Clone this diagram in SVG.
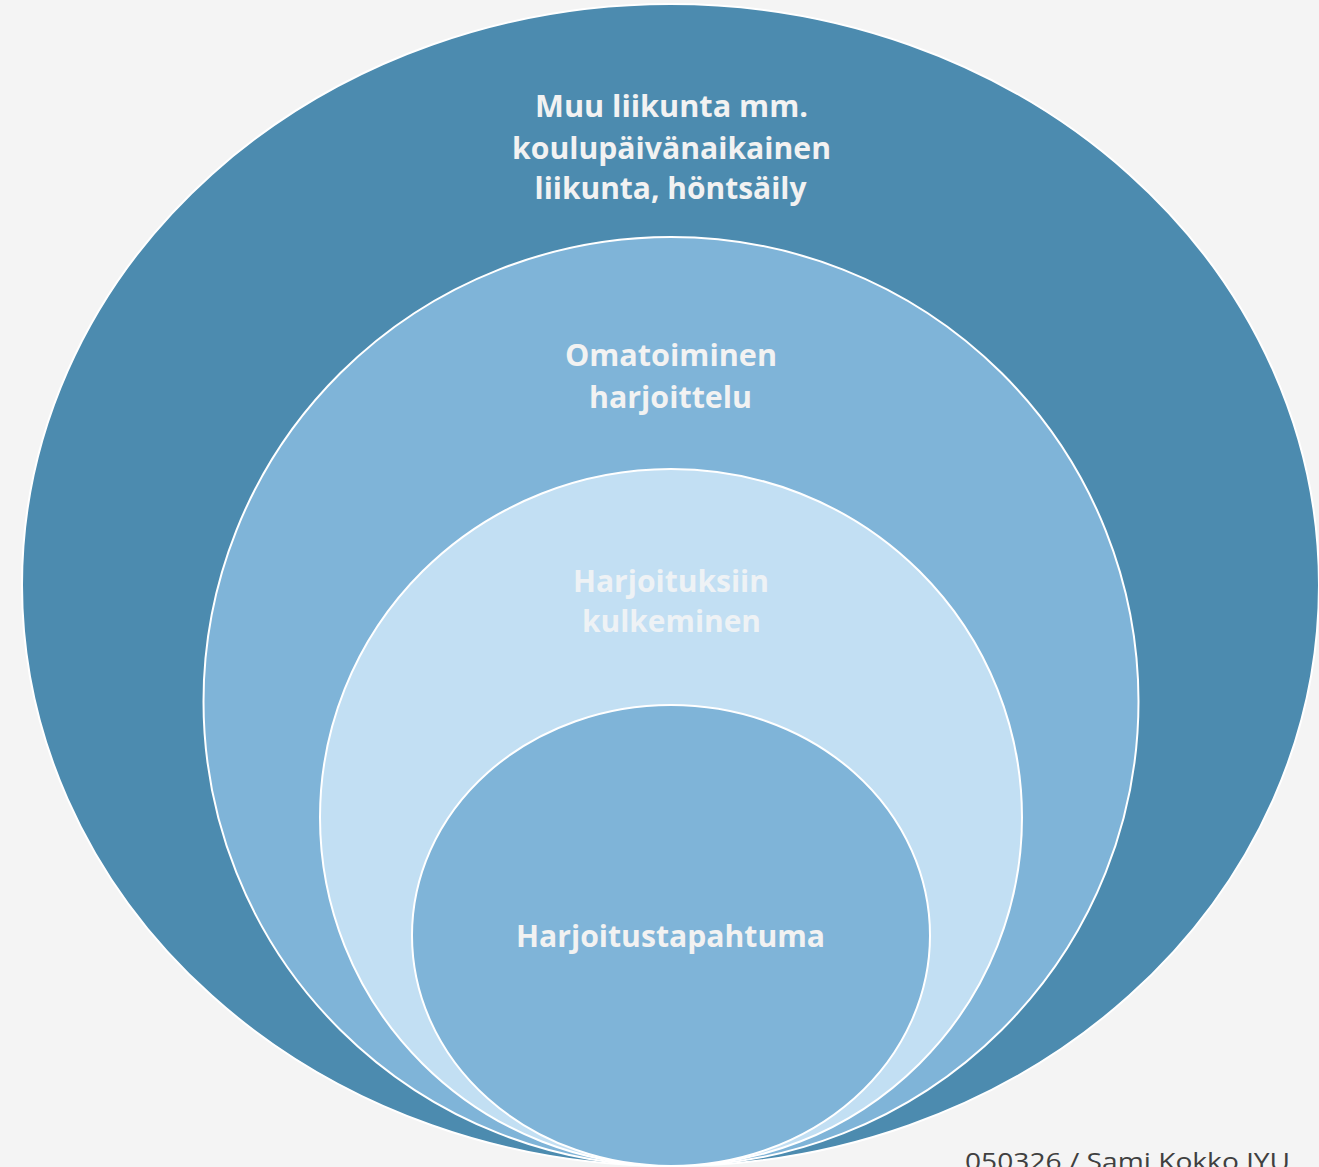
<svg xmlns="http://www.w3.org/2000/svg" width="1319" height="1167" viewBox="0 0 1319 1167">
<style>
.ring{stroke:#ffffff;stroke-width:2}
.lbl{font-family:"Open Sans","Liberation Sans",sans-serif;font-weight:bold;font-size:31px;fill:#f2f2f2;text-anchor:middle}
.foot{font-family:"Open Sans","Liberation Sans",sans-serif;font-size:24px;fill:#404040}
</style>
<rect width="1319" height="1167" fill="#f4f4f4"/>
<g id="outer">
<ellipse class="ring" cx="670.5" cy="585" rx="648.5" ry="581" fill="#4c8baf" stroke-width="1"/>
<text class="lbl"><tspan x="671.5" y="117" textLength="273" lengthAdjust="spacingAndGlyphs">Muu liikunta mm.</tspan><tspan x="671.5" y="159" textLength="319" lengthAdjust="spacingAndGlyphs">koulupäivänaikainen</tspan><tspan x="670.5" y="199" textLength="272" lengthAdjust="spacingAndGlyphs">liikunta, höntsäily</tspan></text>
</g>
<g id="self-training">
<ellipse class="ring" cx="671" cy="701.5" rx="467.5" ry="464.5" fill="#7fb4d8"/>
<text class="lbl"><tspan x="671" y="366" textLength="212" lengthAdjust="spacingAndGlyphs">Omatoiminen</tspan><tspan x="670.5" y="408" textLength="163" lengthAdjust="spacingAndGlyphs">harjoittelu</tspan></text>
</g>
<g id="commuting">
<ellipse class="ring" cx="671" cy="817.5" rx="351" ry="348.5" fill="#c2dff3"/>
<text class="lbl" style="fill:#eef2f5"><tspan x="671" y="592" textLength="196" lengthAdjust="spacingAndGlyphs">Harjoituksiin</tspan><tspan x="671.5" y="632" textLength="179" lengthAdjust="spacingAndGlyphs">kulkeminen</tspan></text>
</g>
<g id="session">
<ellipse class="ring" cx="671" cy="935.5" rx="259" ry="230.5" fill="#7fb4d8"/>
<text class="lbl"><tspan x="670.5" y="947" textLength="309" lengthAdjust="spacingAndGlyphs">Harjoitustapahtuma</tspan></text>
</g>
<g id="connectors"/>
<text class="foot" x="965" y="1170" textLength="325" lengthAdjust="spacingAndGlyphs">050326 / Sami Kokko JYU</text>
</svg>
